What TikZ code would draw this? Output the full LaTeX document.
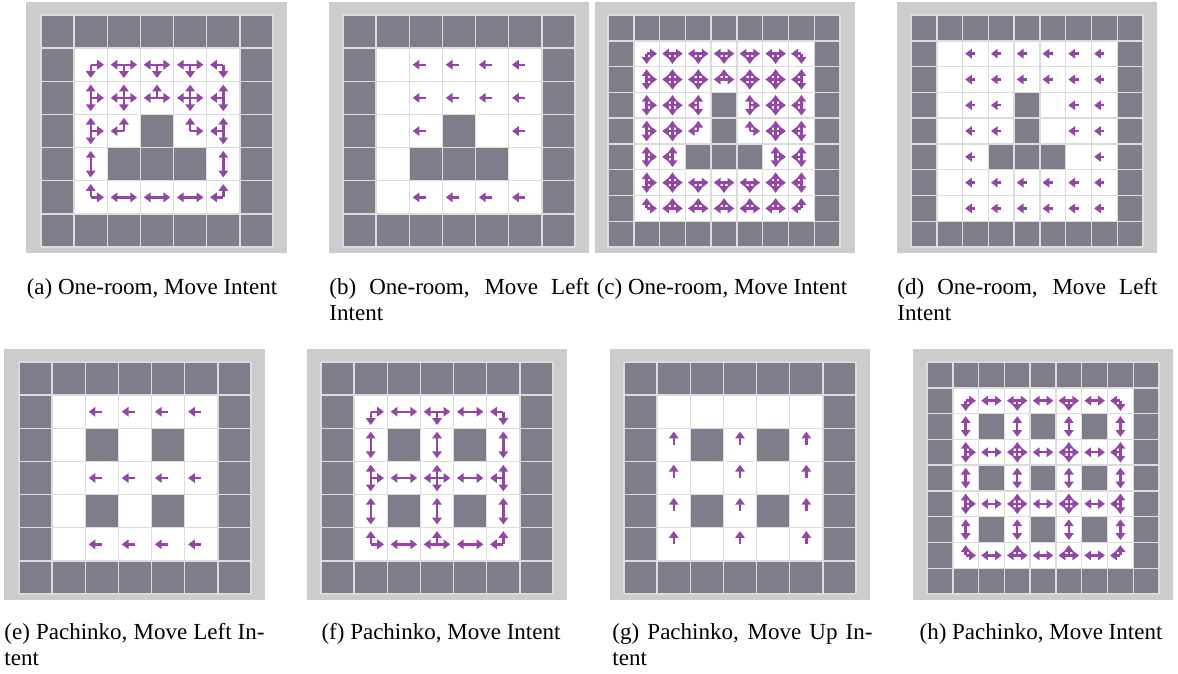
\documentclass[tikz,border=0pt]{standalone}
\usepackage{fontspec}
\setmainfont{Liberation Serif}
\usetikzlibrary{arrows.meta}
\definecolor{panelgray}{HTML}{CCCCCC}
\definecolor{wallgray}{HTML}{7F7D89}
\definecolor{cellline}{HTML}{DCDCDE}
\definecolor{intentpurple}{HTML}{9446A8}

% obstacle cells of each map (row/col, row 0 on top)
\newcommand{\setwalls}[2]{%
  \foreach \wr/\wc in {#2}{\expandafter\gdef\csname wl#1-\wr-\wc\endcsname{}}}
\setwalls{room7}{3/3,4/2,4/3,4/4}
\setwalls{room9}{3/4,4/4,5/3,5/4,5/5}
\setwalls{pach7}{2/2,2/4,4/2,4/4}
\setwalls{pach9}{2/2,2/4,2/6,4/2,4/4,4/6,6/2,6/4,6/6}

% free cell: inside the border ring and not an obstacle
\newif\iffreecell
\newcommand{\testcell}[4]{%
  \freecellfalse
  \ifnum\numexpr#3\relax>0 \ifnum\numexpr#3\relax<\numexpr#2-1\relax
  \ifnum\numexpr#4\relax>0 \ifnum\numexpr#4\relax<\numexpr#2-1\relax
    \ifcsname wl#1-\the\numexpr#3\relax-\the\numexpr#4\relax\endcsname\else\freecelltrue\fi
  \fi\fi\fi\fi}

% one gridworld: #1 map, #2 cells per side, #3 moves (dcol/drow)
\newcommand{\drawgrid}[3]{%
  \pgfmathtruncatemacro{\nlast}{#2-1}%
  % cells
  \foreach \row in {0,...,\nlast}{%
    \foreach \col in {0,...,\nlast}{%
      \testcell{#1}{#2}{\row}{\col}%
      \iffreecell
        \fill[white] (\col,\row) rectangle ++(1,1);
      \else
        \fill[wallgray] (\col,\row) rectangle ++(1,1);
      \fi
    }%
  }%
  % cell borders
  \foreach \k in {0,...,#2}{%
    \draw[gridline] (\k,0) -- (\k,#2);
    \draw[gridline] (0,\k) -- (#2,\k);
  }%
  % intent arrows towards free neighbours
  \foreach \row in {0,...,\nlast}{%
    \foreach \col in {0,...,\nlast}{%
      \testcell{#1}{#2}{\row}{\col}%
      \iffreecell
        \foreach \dx/\dy in {#3}{%
          \testcell{#1}{#2}{\row+\dy}{\col+\dx}%
          \iffreecell
            \draw[movearrow] (\col+0.5,\row+0.5) -- ++(0.4*\dx,0.4*\dy);
          \fi
        }%
      \fi
    }%
  }%
}

\tikzset{
  gridline/.style={cellline, line width=0.6pt},
  movearrow/.style={intentpurple, line width=1pt, -{Triangle[length=2.8pt,width=3.9pt]}},
  subcap/.style={inner sep=0pt, font=\fontsize{9.5}{11}\selectfont},
  subcappar/.style={subcap, anchor=base west, text width=107.4pt, align=justify}
}

\begin{document}
\begin{tikzpicture}[x=0.413pt, y=-0.413pt]
\useasboundingbox (0,0) rectangle (1178,673);

%%% (a) One-room, Move Intent
\fill[panelgray] (26,2) rectangle (287,253);
\begin{scope}[shift={(41,15)}, x=13.69pt, y=-13.69pt]
  \drawgrid{room7}{7}{1/0,-1/0,0/-1,0/1}
\end{scope}
\node[subcap, anchor=base] (cap-a) at (152,294) {(a) One-room, Move Intent};

%%% (b) One-room, Move Left Intent
\fill[panelgray] (329,2) rectangle (589,253);
\begin{scope}[shift={(343,15)}, x=13.69pt, y=-13.69pt]
  \drawgrid{room7}{7}{-1/0}
\end{scope}
\node[subcappar] (cap-b) at (329,294) {(b) One-room, Move Left\linebreak Intent};

%%% (c) One-room, Move Intent
\fill[panelgray] (595,2) rectangle (855,253);
\begin{scope}[shift={(608,15)}, x=10.65pt, y=-10.65pt]
  \drawgrid{room9}{9}{1/0,-1/0,0/-1,0/1}
\end{scope}
\node[subcap, anchor=base] (cap-c) at (722,294) {(c) One-room, Move Intent};

%%% (d) One-room, Move Left Intent
\fill[panelgray] (897,2) rectangle (1157,253);
\begin{scope}[shift={(911,15)}, x=10.65pt, y=-10.65pt]
  \drawgrid{room9}{9}{-1/0}
\end{scope}
\node[subcappar] (cap-d) at (897,294) {(d) One-room, Move Left\linebreak Intent};

%%% (e) Pachinko, Move Left Intent
\fill[panelgray] (4,349) rectangle (265,600);
\begin{scope}[shift={(19,362)}, x=13.69pt, y=-13.69pt]
  \drawgrid{pach7}{7}{-1/0}
\end{scope}
\node[subcappar] (cap-e) at (4,639) {(e) Pachinko, Move Left In-\linebreak tent};

%%% (f) Pachinko, Move Intent
\fill[panelgray] (307,349) rectangle (567,600);
\begin{scope}[shift={(321,362)}, x=13.69pt, y=-13.69pt]
  \drawgrid{pach7}{7}{1/0,-1/0,0/-1,0/1}
\end{scope}
\node[subcap, anchor=base] (cap-f) at (441,639) {(f) Pachinko, Move Intent};

%%% (g) Pachinko, Move Up Intent
\fill[panelgray] (610,349) rectangle (870,600);
\begin{scope}[shift={(624,362)}, x=13.69pt, y=-13.69pt]
  \drawgrid{pach7}{7}{0/-1}
\end{scope}
\node[subcappar] (cap-g) at (612,639) {(g) Pachinko, Move Up In-\linebreak tent};

%%% (h) Pachinko, Move Intent
\fill[panelgray] (913,349) rectangle (1173,600);
\begin{scope}[shift={(927,362)}, x=10.65pt, y=-10.65pt]
  \drawgrid{pach9}{9}{1/0,-1/0,0/-1,0/1}
\end{scope}
\node[subcap, anchor=base] (cap-h) at (1041,639) {(h) Pachinko, Move Intent};

\end{tikzpicture}
\end{document}
